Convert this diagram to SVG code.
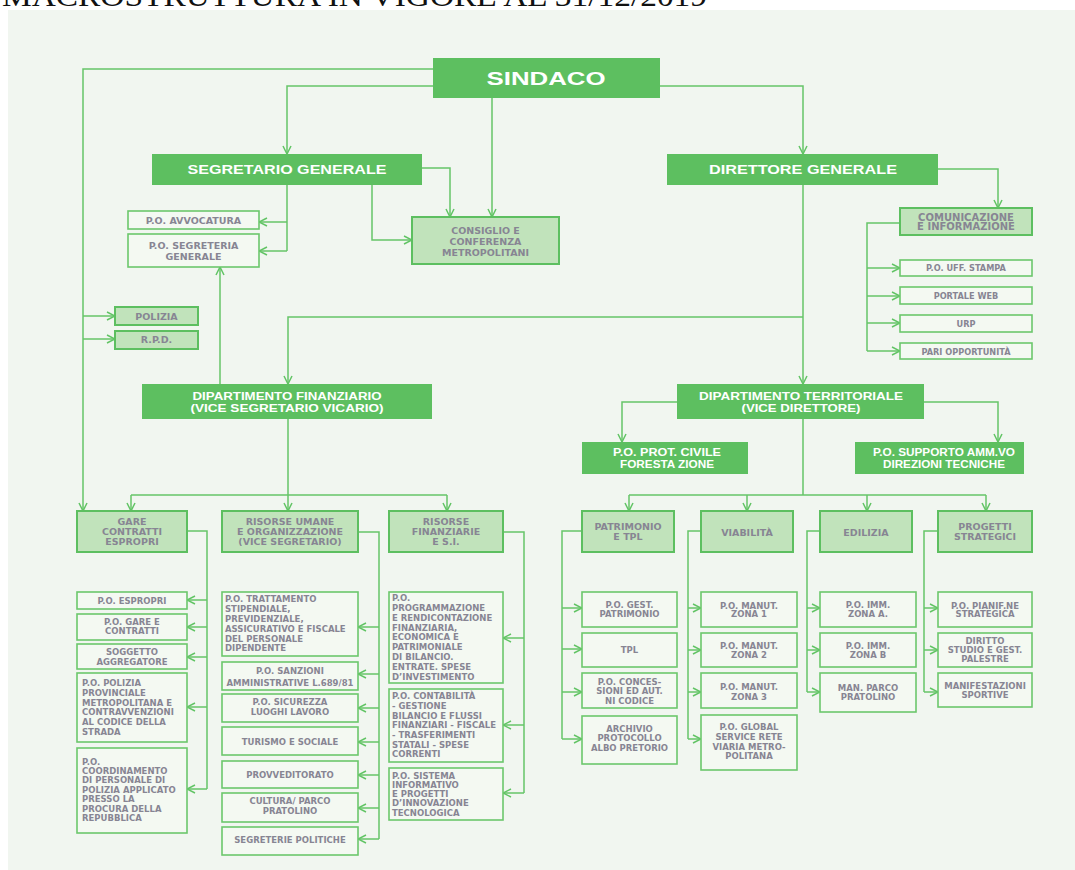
<svg xmlns="http://www.w3.org/2000/svg" width="1075" height="870" viewBox="0 0 1075 870">
<defs>
<marker id="ah" viewBox="0 0 10 10" markerUnits="userSpaceOnUse" markerWidth="10" markerHeight="10" refX="9" refY="5" orient="auto">
<path d="M1,1 L9,5 L1,9" fill="none" stroke="#62c465" stroke-width="1.5"/>
</marker>
<style>
.dk{fill:#5dbf60}
.lt{fill:#c1e3bb;stroke:#5dbf60;stroke-width:2}
.wt{fill:#f4f9f2;stroke:#6cc76c;stroke-width:1.6}
.c{fill:none;stroke:#66c568;stroke-width:1.5}
.a{fill:none;stroke:#66c568;stroke-width:1.5;marker-end:url(#ah)}
text{font-family:"Liberation Sans",Arial,sans-serif;font-weight:bold}
.tw{fill:#ffffff;text-anchor:middle}
.tg,.ts,.tl{font-family:"DejaVu Sans","Liberation Sans",sans-serif;fill:#878593}
.tg{text-anchor:middle;font-size:9.5px}
.ts{text-anchor:middle;font-size:8.5px}
.tl{text-anchor:start;font-size:8.5px}
</style>
</defs>
<text x="2" y="6" style="font-family:'Liberation Serif',serif;font-weight:normal;font-size:30px;fill:#111" textLength="705" lengthAdjust="spacingAndGlyphs">MACROSTRUTTURA IN VIGORE AL 31/12/2019</text>
<rect x="8" y="10" width="1067" height="860" fill="#f1f6f0"/>

<g id="connectors">
<path class="a" d="M433,69 H83 V511"/>
<path class="a" d="M83,316 H115"/>
<path class="a" d="M83,339 H115"/>
<path class="a" d="M433,86 H287 V154"/>
<path class="a" d="M492,98 V217"/>
<path class="a" d="M660,86 H803 V154"/>
<path class="a" d="M422,168 H450 V217"/>
<path class="a" d="M372,185 V240 H412"/>
<path class="c" d="M287,185 V251"/>
<path class="a" d="M287,222 H259"/>
<path class="a" d="M287,251 H259"/>
<path class="a" d="M938,169 H998 V208"/>
<path class="c" d="M900,223 H867 V351"/>
<path class="a" d="M867,268 H900"/>
<path class="a" d="M867,296 H900"/>
<path class="a" d="M867,323 H900"/>
<path class="a" d="M867,351 H900"/>
<path class="a" d="M803,185 V384"/>
<path class="a" d="M803,317 H288 V384"/>
<path class="a" d="M220,384 V267"/>
<path class="c" d="M288,419 V495 M131,495 H447"/>
<path class="a" d="M131,495 V511"/>
<path class="a" d="M288,495 V511"/>
<path class="a" d="M447,495 V511"/>
<path class="c" d="M187,531 H207 V789"/>
<path class="a" d="M207,600 H187"/>
<path class="a" d="M207,627 H187"/>
<path class="a" d="M207,657 H187"/>
<path class="a" d="M207,707 H187"/>
<path class="a" d="M207,789 H187"/>
<path class="c" d="M358,532 H379 V839"/>
<path class="a" d="M379,627 H358"/>
<path class="a" d="M379,674 H358"/>
<path class="a" d="M379,708 H358"/>
<path class="a" d="M379,742 H358"/>
<path class="a" d="M379,775 H358"/>
<path class="a" d="M379,808 H358"/>
<path class="a" d="M379,839 H358"/>
<path class="c" d="M503,532 H524 V793"/>
<path class="a" d="M524,638 H503"/>
<path class="a" d="M524,725 H503"/>
<path class="a" d="M524,793 H503"/>
<path class="a" d="M677,402 H622 V442"/>
<path class="a" d="M924,402 H998 V442"/>
<path class="c" d="M803,419 V495 M629,495 H986"/>
<path class="a" d="M629,495 V511"/>
<path class="a" d="M747,495 V511"/>
<path class="a" d="M867,495 V511"/>
<path class="a" d="M986,495 V511"/>
<path class="c" d="M582,531 H562 V739"/>
<path class="a" d="M562,608 H582"/>
<path class="a" d="M562,649 H582"/>
<path class="a" d="M562,692 H582"/>
<path class="a" d="M562,739 H582"/>
<path class="c" d="M701,531 H688 V739"/>
<path class="a" d="M688,608 H701"/>
<path class="a" d="M688,650 H701"/>
<path class="a" d="M688,692 H701"/>
<path class="a" d="M688,739 H701"/>
<path class="c" d="M820,531 H807 V692"/>
<path class="a" d="M807,608 H820"/>
<path class="a" d="M807,650 H820"/>
<path class="a" d="M807,692 H820"/>
<path class="c" d="M938,531 H924 V692"/>
<path class="a" d="M924,608 H938"/>
<path class="a" d="M924,650 H938"/>
<path class="a" d="M924,692 H938"/>
</g>

<g id="sindaco"><rect class="dk" x="433" y="58" width="227" height="40"/><text class="tw" x="546" y="85" style="font-size:18px" textLength="119" lengthAdjust="spacingAndGlyphs">SINDACO</text></g>
<g id="segretario"><rect class="dk" x="152" y="154" width="270" height="31"/><text class="tw" x="287" y="174" style="font-size:13px" textLength="199" lengthAdjust="spacingAndGlyphs">SEGRETARIO GENERALE</text></g>
<g id="direttore"><rect class="dk" x="667" y="154" width="271" height="31"/><text class="tw" x="803" y="174" style="font-size:13px" textLength="188" lengthAdjust="spacingAndGlyphs">DIRETTORE GENERALE</text></g>

<g id="avvocatura"><rect class="wt" x="128" y="211" width="131" height="18"/><text class="tg" x="193.5" y="223.5">P.O. AVVOCATURA</text></g>
<g id="segreteria"><rect class="wt" x="128" y="234" width="131" height="33"/><text class="tg"><tspan x="193.5" y="248.5">P.O. SEGRETERIA</tspan><tspan x="193.5" y="259.5">GENERALE</tspan></text></g>
<g id="consiglio"><rect class="lt" x="412" y="217" width="147" height="47"/><text class="tg"><tspan x="485.5" y="233.5">CONSIGLIO E</tspan><tspan x="485.5" y="244.5">CONFERENZA</tspan><tspan x="485.5" y="255.5">METROPOLITANI</tspan></text></g>
<g id="polizia"><rect class="lt" x="115" y="307" width="83" height="18"/><text class="tg" x="156.5" y="319.5">POLIZIA</text></g>
<g id="rpd"><rect class="lt" x="115" y="331" width="83" height="18"/><text class="tg" x="156.5" y="343">R.P.D.</text></g>

<g id="comunicazione"><rect class="lt" x="900" y="208" width="132" height="27"/><text class="tg" style="font-size:10px"><tspan x="966" y="220.5">COMUNICAZIONE</tspan><tspan x="966" y="230">E INFORMAZIONE</tspan></text></g>
<g id="stampa"><rect class="wt" x="900" y="260" width="132" height="16"/><text class="ts" style="font-size:8.2px" x="966" y="271">P.O. UFF. STAMPA</text></g>
<g id="portale"><rect class="wt" x="900" y="287" width="132" height="17"/><text class="ts" style="font-size:8.2px" x="966" y="298.8">PORTALE WEB</text></g>
<g id="urp"><rect class="wt" x="900" y="315" width="132" height="17"/><text class="ts" style="font-size:8.2px" x="966" y="326.5">URP</text></g>
<g id="pari"><rect class="wt" x="900" y="343" width="132" height="16"/><text class="ts" style="font-size:8.2px" x="966" y="354.5">PARI OPPORTUNITÀ</text></g>

<g id="dipfin"><rect class="dk" x="142" y="384" width="290" height="35"/><text class="tw" style="font-size:11px"><tspan x="287" y="400" textLength="189" lengthAdjust="spacingAndGlyphs">DIPARTIMENTO FINANZIARIO</tspan><tspan x="287" y="411.5" textLength="193" lengthAdjust="spacingAndGlyphs">(VICE SEGRETARIO VICARIO)</tspan></text></g>
<g id="dipterr"><rect class="dk" x="677" y="384" width="247" height="35"/><text class="tw" style="font-size:11px"><tspan x="801" y="400" textLength="204" lengthAdjust="spacingAndGlyphs">DIPARTIMENTO TERRITORIALE</tspan><tspan x="801" y="411.5" textLength="119" lengthAdjust="spacingAndGlyphs">(VICE DIRETTORE)</tspan></text></g>
<g id="protcivile"><rect class="dk" x="582" y="442" width="166" height="32"/><text class="tw" style="font-size:10px"><tspan x="667" y="456" textLength="108" lengthAdjust="spacingAndGlyphs">P.O. PROT. CIVILE</tspan><tspan x="667" y="468" textLength="94" lengthAdjust="spacingAndGlyphs">FORESTA ZIONE</tspan></text></g>
<g id="supporto"><rect class="dk" x="855" y="442" width="169" height="32"/><text class="tw" style="font-size:10px"><tspan x="944" y="456" textLength="142" lengthAdjust="spacingAndGlyphs">P.O. SUPPORTO AMM.VO</tspan><tspan x="944" y="468" textLength="122" lengthAdjust="spacingAndGlyphs">DIREZIONI TECNICHE</tspan></text></g>

<g id="gare"><rect class="lt" x="77" y="511" width="110" height="41"/><text class="tg"><tspan x="132" y="525">GARE</tspan><tspan x="132" y="535">CONTRATTI</tspan><tspan x="132" y="545">ESPROPRI</tspan></text></g>
<g id="risumane"><rect class="lt" x="222" y="511" width="136" height="41"/><text class="tg"><tspan x="290" y="525">RISORSE UMANE</tspan><tspan x="290" y="535">E ORGANIZZAZIONE</tspan><tspan x="290" y="545">(VICE SEGRETARIO)</tspan></text></g>
<g id="risfin"><rect class="lt" x="389" y="511" width="114" height="41"/><text class="tg"><tspan x="446" y="525">RISORSE</tspan><tspan x="446" y="535">FINANZIARIE</tspan><tspan x="446" y="545">E S.I.</tspan></text></g>
<g id="patrimonio"><rect class="lt" x="582" y="511" width="92" height="41"/><text class="tg"><tspan x="628" y="529.5">PATRIMONIO</tspan><tspan x="628" y="539.5">E TPL</tspan></text></g>
<g id="viabilita"><rect class="lt" x="701" y="511" width="92" height="41"/><text class="tg" x="747" y="535.5">VIABILITÀ</text></g>
<g id="edilizia"><rect class="lt" x="820" y="511" width="92" height="41"/><text class="tg" x="866" y="535.5">EDILIZIA</text></g>
<g id="progetti"><rect class="lt" x="938" y="511" width="94" height="41"/><text class="tg"><tspan x="985" y="529.5">PROGETTI</tspan><tspan x="985" y="539.5">STRATEGICI</tspan></text></g>

<g id="espropri"><rect class="wt" x="77" y="592" width="110" height="17"/><text class="ts" x="132" y="603.5">P.O. ESPROPRI</text></g>
<g id="garecontratti"><rect class="wt" x="77" y="614" width="110" height="26"/><text class="ts"><tspan x="132" y="624.7">P.O. GARE E</tspan><tspan x="132" y="634.3">CONTRATTI</tspan></text></g>
<g id="soggetto"><rect class="wt" x="77" y="644" width="110" height="25"/><text class="ts"><tspan x="132" y="655.3">SOGGETTO</tspan><tspan x="132" y="664.5">AGGREGATORE</tspan></text></g>
<g id="polprov"><rect class="wt" x="77" y="673" width="110" height="69"/><text class="tl"><tspan x="82" y="686.3">P.O. POLIZIA</tspan><tspan x="82" y="696">PROVINCIALE</tspan><tspan x="82" y="705.7">METROPOLITANA E</tspan><tspan x="82" y="715.2">CONTRAVVENZIONI</tspan><tspan x="82" y="725">AL CODICE DELLA</tspan><tspan x="82" y="734.5">STRADA</tspan></text></g>
<g id="coordinamento"><rect class="wt" x="77" y="748" width="110" height="85"/><text class="tl"><tspan x="82" y="764.7">P.O.</tspan><tspan x="82" y="773.7">COORDINAMENTO</tspan><tspan x="82" y="783">DI PERSONALE DI</tspan><tspan x="82" y="793">POLIZIA APPLICATO</tspan><tspan x="82" y="802.3">PRESSO LA</tspan><tspan x="82" y="812">PROCURA DELLA</tspan><tspan x="82" y="821.3">REPUBBLICA</tspan></text></g>

<g id="trattamento"><rect class="wt" x="222" y="592" width="136" height="64"/><text class="tl"><tspan x="225" y="602">P.O. TRATTAMENTO</tspan><tspan x="225" y="612">STIPENDIALE,</tspan><tspan x="225" y="622.3">PREVIDENZIALE,</tspan><tspan x="225" y="632">ASSICURATIVO E FISCALE</tspan><tspan x="225" y="641.7">DEL PERSONALE</tspan><tspan x="225" y="651.3">DIPENDENTE</tspan></text></g>
<g id="sanzioni"><rect class="wt" x="222" y="662" width="136" height="28"/><text class="ts"><tspan x="290" y="674">P.O. SANZIONI</tspan><tspan x="290" y="686">AMMINISTRATIVE L.689/81</tspan></text></g>
<g id="sicurezza"><rect class="wt" x="222" y="694" width="136" height="28"/><text class="ts"><tspan x="290" y="705.3">P.O. SICUREZZA</tspan><tspan x="290" y="714.7">LUOGHI LAVORO</tspan></text></g>
<g id="turismo"><rect class="wt" x="222" y="727" width="136" height="28"/><text class="ts" x="290" y="744.5">TURISMO E SOCIALE</text></g>
<g id="provveditorato"><rect class="wt" x="222" y="761" width="136" height="27"/><text class="ts" x="290" y="778">PROVVEDITORATO</text></g>
<g id="cultura"><rect class="wt" x="222" y="793" width="136" height="29"/><text class="ts"><tspan x="290" y="804">CULTURA/ PARCO</tspan><tspan x="290" y="813.7">PRATOLINO</tspan></text></g>
<g id="segreterie"><rect class="wt" x="222" y="827" width="136" height="28"/><text class="ts" x="290" y="843">SEGRETERIE POLITICHE</text></g>

<g id="programmazione"><rect class="wt" x="389" y="592" width="114" height="91"/><text class="tl"><tspan x="392" y="601.3">P.O.</tspan><tspan x="392" y="611.3">PROGRAMMAZIONE</tspan><tspan x="392" y="621.3">E RENDICONTAZIONE</tspan><tspan x="392" y="630.5">FINANZIARIA,</tspan><tspan x="392" y="640.3">ECONOMICA E</tspan><tspan x="392" y="650.3">PATRIMONIALE</tspan><tspan x="392" y="660.3">DI BILANCIO.</tspan><tspan x="392" y="670.3">ENTRATE. SPESE</tspan><tspan x="392" y="679.7">D’INVESTIMENTO</tspan></text></g>
<g id="contabilita"><rect class="wt" x="389" y="689" width="114" height="73"/><text class="tl"><tspan x="392" y="698.7">P.O. CONTABILITÀ</tspan><tspan x="392" y="709">- GESTIONE</tspan><tspan x="392" y="718.7">BILANCIO E FLUSSI</tspan><tspan x="392" y="728.3">FINANZIARI - FISCALE</tspan><tspan x="392" y="738">- TRASFERIMENTI</tspan><tspan x="392" y="747.7">STATALI - SPESE</tspan><tspan x="392" y="757.3">CORRENTI</tspan></text></g>
<g id="sistema"><rect class="wt" x="389" y="768" width="114" height="52"/><text class="tl"><tspan x="392" y="778.7">P.O. SISTEMA</tspan><tspan x="392" y="788">INFORMATIVO</tspan><tspan x="392" y="797">E PROGETTI</tspan><tspan x="392" y="806.3">D’INNOVAZIONE</tspan><tspan x="392" y="815.7">TECNOLOGICA</tspan></text></g>

<g id="gestpatr"><rect class="wt" x="582" y="592" width="95" height="35"/><text class="ts"><tspan x="629.5" y="608">P.O. GEST.</tspan><tspan x="629.5" y="617.3">PATRIMONIO</tspan></text></g>
<g id="tpl"><rect class="wt" x="582" y="633" width="95" height="34"/><text class="ts" x="629.5" y="653">TPL</text></g>
<g id="concessioni"><rect class="wt" x="582" y="673" width="95" height="35"/><text class="ts"><tspan x="629.5" y="684.7">P.O. CONCES-</tspan><tspan x="629.5" y="694">SIONI ED AUT.</tspan><tspan x="629.5" y="703.7">NI CODICE</tspan></text></g>
<g id="archivio"><rect class="wt" x="582" y="716" width="95" height="48"/><text class="ts"><tspan x="629.5" y="732">ARCHIVIO</tspan><tspan x="629.5" y="741.3">PROTOCOLLO</tspan><tspan x="629.5" y="750.7">ALBO PRETORIO</tspan></text></g>

<g id="zona1"><rect class="wt" x="701" y="592" width="96" height="35"/><text class="ts"><tspan x="749" y="608.7">P.O. MANUT.</tspan><tspan x="749" y="617.3">ZONA 1</tspan></text></g>
<g id="zona2"><rect class="wt" x="701" y="633" width="96" height="34"/><text class="ts"><tspan x="749" y="648.7">P.O. MANUT.</tspan><tspan x="749" y="658">ZONA 2</tspan></text></g>
<g id="zona3"><rect class="wt" x="701" y="673" width="96" height="35"/><text class="ts"><tspan x="749" y="689.7">P.O. MANUT.</tspan><tspan x="749" y="699.7">ZONA 3</tspan></text></g>
<g id="global"><rect class="wt" x="701" y="715" width="96" height="55"/><text class="ts"><tspan x="749" y="730.3">P.O. GLOBAL</tspan><tspan x="749" y="739.7">SERVICE RETE</tspan><tspan x="749" y="749.7">VIARIA METRO-</tspan><tspan x="749" y="759.3">POLITANA</tspan></text></g>

<g id="zonaa"><rect class="wt" x="820" y="592" width="96" height="35"/><text class="ts"><tspan x="868" y="608">P.O. IMM.</tspan><tspan x="868" y="617.3">ZONA A.</tspan></text></g>
<g id="zonab"><rect class="wt" x="820" y="633" width="96" height="34"/><text class="ts"><tspan x="868" y="648.7">P.O. IMM.</tspan><tspan x="868" y="658">ZONA B</tspan></text></g>
<g id="manparco"><rect class="wt" x="820" y="673" width="96" height="39"/><text class="ts"><tspan x="868" y="690.7">MAN. PARCO</tspan><tspan x="868" y="700.3">PRATOLINO</tspan></text></g>

<g id="pianif"><rect class="wt" x="938" y="592" width="94" height="35"/><text class="ts"><tspan x="985" y="608.7">P.O. PIANIF.NE</tspan><tspan x="985" y="617.3">STRATEGICA</tspan></text></g>
<g id="diritto"><rect class="wt" x="938" y="633" width="94" height="34"/><text class="ts"><tspan x="985" y="644">DIRITTO</tspan><tspan x="985" y="653">STUDIO E GEST.</tspan><tspan x="985" y="662.3">PALESTRE</tspan></text></g>
<g id="manifestazioni"><rect class="wt" x="938" y="673" width="94" height="34"/><text class="ts"><tspan x="985" y="688.7">MANIFESTAZIONI</tspan><tspan x="985" y="698">SPORTIVE</tspan></text></g>
</svg>
